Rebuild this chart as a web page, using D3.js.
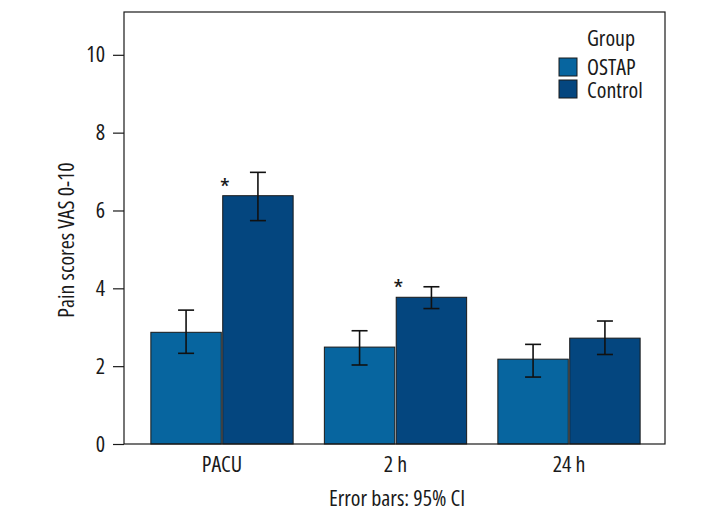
<!DOCTYPE html>
<html><head><meta charset="utf-8">
<script src="https://cdn.jsdelivr.net/npm/d3@7"></script>
<style>
body{margin:0;background:#fff;}
svg text{font-family:"Open Sans",sans-serif;font-stretch:80%;fill:#1a1a1a;}
</style></head>
<body><svg id="c" width="720" height="528"></svg>
<script>
const categories = ["PACU", "2 h", "24 h"];
const groups = ["OSTAP", "Control"];
const ostapMean = [2.87, 2.49, 2.18];
const ostapLow = [2.33, 2.03, 1.72];
const ostapHigh = [3.44, 2.91, 2.56];
const controlMean = [6.38, 3.77, 2.72];
const controlLow = [5.74, 3.48, 2.30];
const controlHigh = [6.98, 4.04, 3.16];
const significant = [true, true, false];
const yTicks = [0, 2, 4, 6, 8, 10];
const colors = ["#07659f", "#04467f"];

const svg = d3.select("#c");
const L = 124, R = 665, T = 12, B = 444;
const FS = 22;
const y = d3.scaleLinear().domain([0, 11.1]).range([B, T]);
const x = d3.scaleBand().domain(categories).range([135.25, 655.75]).paddingInner(0.18).paddingOuter(0.09);
const xs = d3.scaleBand().domain(groups).range([0, x.bandwidth()]).paddingInner(0.02);

const data = [];
categories.forEach((c, i) => {
  data.push({c, g: "OSTAP", m: ostapMean[i], lo: ostapLow[i], hi: ostapHigh[i]});
  data.push({c, g: "Control", m: controlMean[i], lo: controlLow[i], hi: controlHigh[i]});
});

// bars
svg.append("g").selectAll("rect").data(data).join("rect")
  .attr("x", d => x(d.c) + xs(d.g))
  .attr("y", d => y(d.m))
  .attr("width", xs.bandwidth())
  .attr("height", d => y(0) - y(d.m))
  .attr("fill", d => colors[groups.indexOf(d.g)])
  .attr("stroke", "#1a1a1a").attr("stroke-width", 1);

// error bars
const eb = svg.append("g").attr("stroke", "#111").attr("stroke-width", 1.6);
data.forEach(d => {
  const cx = x(d.c) + xs(d.g) + xs.bandwidth() / 2;
  eb.append("line").attr("x1", cx).attr("x2", cx).attr("y1", y(d.lo)).attr("y2", y(d.hi));
  eb.append("line").attr("x1", cx - 8).attr("x2", cx + 8).attr("y1", y(d.lo)).attr("y2", y(d.lo));
  eb.append("line").attr("x1", cx - 8).attr("x2", cx + 8).attr("y1", y(d.hi)).attr("y2", y(d.hi));
});

// asterisks
categories.forEach((c, i) => {
  if (!significant[i]) return;
  svg.append("text").attr("x", x(c) + xs("Control") + 2).attr("y", y(controlMean[i]) + 1)
    .attr("text-anchor", "middle").attr("font-size", 26).text("*");
});

// frame
svg.append("rect").attr("x", L).attr("y", T).attr("width", R - L).attr("height", B - T)
  .attr("fill", "none").attr("stroke", "#1a1a1a").attr("stroke-width", 1.2);

// y axis
const ya = svg.append("g").attr("transform", `translate(${L},0)`)
  .call(d3.axisLeft(y).tickValues(yTicks).tickSize(11).tickPadding(8).tickFormat(d3.format("d")));
ya.select(".domain").remove();
ya.selectAll("line").attr("stroke", "#1a1a1a").attr("stroke-width", 1.2);
ya.selectAll("text").attr("font-size", FS).attr("fill", "#1a1a1a").attr("font-family", null);

// x axis labels
const xa = svg.append("g").attr("transform", `translate(0,${B})`)
  .call(d3.axisBottom(x).tickSize(0).tickPadding(12));
xa.select(".domain").remove();
xa.selectAll("text").attr("font-size", FS).attr("fill", "#1a1a1a").attr("font-family", null);

// axis titles
svg.append("text").attr("x", 397).attr("y", 506).attr("text-anchor", "middle").attr("font-size", FS)
  .text("Error bars: 95% CI");
svg.append("text").attr("transform", "translate(74,240) rotate(-90)").attr("text-anchor", "middle")
  .attr("font-size", FS).text("Pain scores VAS 0-10");

// legend
svg.append("text").attr("x", 611).attr("y", 46).attr("text-anchor", "middle").attr("font-size", FS).text("Group");
groups.forEach((g, i) => {
  svg.append("rect").attr("x", 559).attr("y", 58 + i * 22).attr("width", 18).attr("height", 18)
    .attr("fill", colors[i]).attr("stroke", "#1a1a1a").attr("stroke-width", 1);
  svg.append("text").attr("x", 587).attr("y", 75 + i * 22.5).attr("font-size", FS).text(g);
});
</script></body></html>
